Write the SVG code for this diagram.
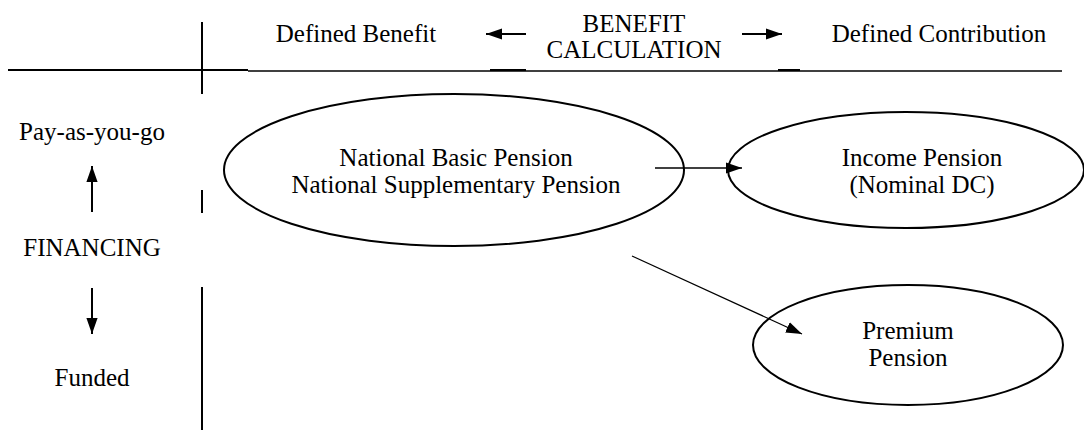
<svg xmlns="http://www.w3.org/2000/svg" width="1084" height="431" viewBox="0 0 1084 431">
<defs>
<style>
.t{font-family:"Liberation Serif","Times New Roman",serif;font-size:25px;fill:#000;text-anchor:middle}
.ln{stroke:#000;stroke-width:1.3;fill:none}
.thk{stroke:#000;stroke-width:2;fill:none}
.el{stroke:#000;stroke-width:2;fill:#fff}
</style>
<marker id="ah2" viewBox="0 0 10 10" refX="10" refY="5" markerWidth="16" markerHeight="16" markerUnits="userSpaceOnUse" orient="auto"><path d="M0,1.5 L10,5 L0,8.5 z" fill="#000"/></marker>
</defs>
<g id="axes">
<line class="ln" x1="248" y1="71" x2="1062" y2="71"/>
<line class="thk" x1="8" y1="70" x2="248" y2="70"/>
<line class="thk" x1="490" y1="70" x2="526" y2="70"/>
<line class="thk" x1="778" y1="70" x2="800" y2="70"/>
<line class="thk" x1="202" y1="22" x2="202" y2="94"/>
<line class="thk" x1="202" y1="190" x2="202" y2="213"/>
<line class="thk" x1="202" y1="287" x2="202" y2="430"/>
</g>
<g id="header">
<text class="t" x="356" y="42">Defined Benefit</text>
<text class="t" x="634" y="32">BENEFIT</text>
<text class="t" x="634" y="58">CALCULATION</text>
<text class="t" x="939" y="42">Defined Contribution</text>
<line class="thk" x1="526" y1="34" x2="486" y2="34" marker-end="url(#ah2)"/>
<line class="thk" x1="742" y1="34" x2="782" y2="34" marker-end="url(#ah2)"/>
</g>
<g id="financing">
<text class="t" x="92" y="140">Pay-as-you-go</text>
<text class="t" x="92" y="256">FINANCING</text>
<text class="t" x="92" y="386">Funded</text>
<line class="thk" x1="92" y1="212" x2="92" y2="166" marker-end="url(#ah2)"/>
<line class="thk" x1="92" y1="288" x2="92" y2="334" marker-end="url(#ah2)"/>
</g>
<g id="node-national">
<ellipse class="el" cx="454" cy="170" rx="230" ry="76"/>
<text class="t" x="456" y="166">National Basic Pension</text>
<text class="t" x="456" y="193">National Supplementary Pension</text>
</g>
<g id="node-income">
<ellipse class="el" cx="906" cy="170" rx="178" ry="58"/>
<text class="t" x="922" y="166">Income Pension</text>
<text class="t" x="922" y="193">(Nominal DC)</text>
</g>
<g id="node-premium">
<ellipse class="el" cx="908" cy="345" rx="155" ry="60"/>
<text class="t" x="908" y="339">Premium</text>
<text class="t" x="908" y="366">Pension</text>
</g>
<g id="connectors">
<line class="ln" x1="655" y1="168" x2="742" y2="168" marker-end="url(#ah2)"/>
<line class="ln" x1="632" y1="256" x2="802" y2="334" marker-end="url(#ah2)"/>
</g>
</svg>
